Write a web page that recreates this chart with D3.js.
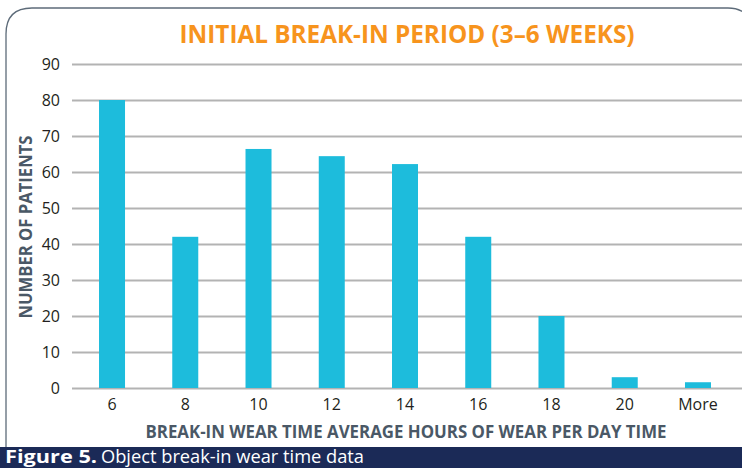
<!DOCTYPE html>
<html>
<head>
<meta charset="utf-8">
<script src="https://cdn.jsdelivr.net/npm/d3@7"></script>
<style>
  html, body { margin: 0; padding: 0; background: #fff; }
  svg { display: block; }
</style>
</head>
<body>
<div class="chart"></div>
<script>
// datos
const categories = ["6", "8", "10", "12", "14", "16", "18", "20", "More"];
const patients = [80, 42, 66.4, 64.4, 62.2, 42, 20, 3, 1.6];
const yTicks = [0, 10, 20, 30, 40, 50, 60, 70, 80, 90];

const W = 742, H = 468;
const svg = d3.select(".chart")
  .append("svg")
  .attr("width", W)
  .attr("height", H);

// marco redondeado
svg.append("path")
  .attr("d", "M6,447 L6,34 Q6,8 32,8 L728,8 Q742,8 750,18 L750,447")
  .attr("fill", "none")
  .attr("stroke", "#5d6b79")
  .attr("stroke-width", 1.3);

const x = d3.scaleBand()
  .domain(categories)
  .range([75.4, 734.6])
  .paddingInner(0.645)
  .paddingOuter(0.3225);

const y = d3.scaleLinear()
  .domain([0, 90])
  .range([388, 64]);

// eje y + rejilla
const gy = svg.append("g")
  .attr("transform", "translate(72,0)")
  .call(d3.axisLeft(y).tickValues(yTicks).tickSize(-670).tickPadding(12));
gy.select(".domain").remove();
gy.selectAll(".tick line")
  .attr("stroke", "#b3b3b3")
  .attr("stroke-width", 1.8);
gy.selectAll(".tick text")
  .attr("fill", "#231f20")
  .attr("font-family", "Open Sans")
  .attr("font-size", 16);

// barras
svg.selectAll("rect.bar")
  .data(patients)
  .enter()
  .append("rect")
  .attr("class", "bar")
  .attr("x", (d, i) => x(categories[i]))
  .attr("width", x.bandwidth())
  .attr("y", d => y(d))
  .attr("height", d => y(0) - y(d))
  .attr("fill", "#1dbcdc");

// eje x
const gx = svg.append("g")
  .attr("transform", "translate(0,388)")
  .call(d3.axisBottom(x).tickSize(0).tickPadding(10.6));
gx.select(".domain").remove();
gx.selectAll(".tick text")
  .attr("fill", "#231f20")
  .attr("font-family", "Open Sans")
  .attr("font-size", 16);

// titulo
svg.append("text")
  .attr("x", 407)
  .attr("y", 43)
  .attr("text-anchor", "middle")
  .attr("font-family", "Open Sans")
  .attr("font-weight", 700)
  .attr("font-size", 25)
  .attr("fill", "#f7941d")
  .attr("textLength", 455)
  .attr("lengthAdjust", "spacingAndGlyphs")
  .text("INITIAL BREAK-IN PERIOD (3–6 WEEKS)");

// titulos de ejes
svg.append("text")
  .attr("x", 406)
  .attr("y", 438)
  .attr("text-anchor", "middle")
  .attr("font-family", "Open Sans")
  .attr("font-weight", 700)
  .attr("font-size", 17)
  .attr("fill", "#4a5866")
  .attr("textLength", 521)
  .attr("lengthAdjust", "spacingAndGlyphs")
  .text("BREAK-IN WEAR TIME AVERAGE HOURS OF WEAR PER DAY TIME");

svg.append("text")
  .attr("transform", "translate(32,227) rotate(-90)")
  .attr("text-anchor", "middle")
  .attr("font-family", "Open Sans")
  .attr("font-weight", 700)
  .attr("font-size", 17)
  .attr("fill", "#4a5866")
  .attr("textLength", 183)
  .attr("lengthAdjust", "spacingAndGlyphs")
  .text("NUMBER OF PATIENTS");

// banda del pie
svg.append("rect")
  .attr("x", 0)
  .attr("y", 447)
  .attr("width", W)
  .attr("height", H - 447)
  .attr("fill", "#1b2a57");

const cap = svg.append("text")
  .attr("x", 5)
  .attr("y", 462.5)
  .attr("font-family", "Open Sans")
  .attr("font-size", 18)
  .attr("fill", "#fff");
cap.append("tspan")
  .attr("font-weight", 700)
  .attr("textLength", 92)
  .attr("lengthAdjust", "spacingAndGlyphs")
  .text("Figure 5.");
cap.append("tspan")
  .attr("x", 101)
  .attr("textLength", 263)
  .attr("lengthAdjust", "spacingAndGlyphs")
  .text("Object break-in wear time data");
</script>
</body>
</html>
